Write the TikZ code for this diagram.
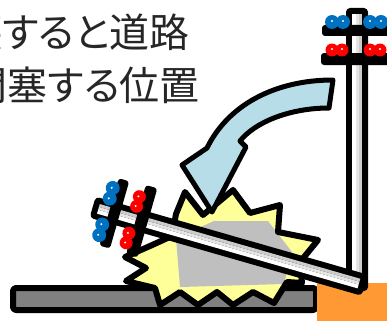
\documentclass[tikz,border=0pt]{standalone}
\usepackage{fontspec}
\newfontfamily\jpfont[RawFeature=+palt]{Noto Sans CJK JP}

\definecolor{insblue}{RGB}{0,112,192}
\definecolor{insred}{RGB}{255,0,0}
\definecolor{arrowblue}{RGB}{183,221,232}
\definecolor{flashyellow}{RGB}{255,255,153}
\definecolor{debrisgray}{RGB}{191,191,191}
\definecolor{roadgray}{RGB}{128,128,128}
\definecolor{curborange}{RGB}{255,153,51}

\tikzset{
  outline/.style={draw=black, line width=#1, line join=round},
  outline/.default=6pt,
  jptext/.style={font=\jpfont\fontsize{40}{44}\selectfont, inner sep=0pt, text=black!85},
}

% one pole with two cross arms, drawn upright
\newcommand{\utilitypole}{%
  \fill[black, rounded corners=4pt] (346,8) rectangle (368,291);
  \fill[white] (352,14) rectangle (356,285);
  \fill[gray!20] (356,14) rectangle (359,285);
  \fill[gray!40] (359,14) rectangle (362,285);
  % cross arms
  \fill[black, rounded corners=3pt] (322,25) rectangle (392,36);
  \fill[black, rounded corners=3pt] (321,53) rectangle (393,65);
  % insulators
  \foreach \cx in {332,343,370,381} {
    \fill[insblue] (\cx,22) circle (7);
    \fill[white] (\cx,21) circle (1.1);
  }
  \foreach \cx in {332,342,370,380} {
    \fill[insred] (\cx,50) circle (6.5);
    \fill[white] (\cx,49) circle (1.1);
  }
}

\begin{document}
\begin{tikzpicture}[x=1pt, y=-1pt]
  \useasboundingbox (0,0) rectangle (387,321);
  \clip (0,0) rectangle (387,321);

  % road and curb
  \draw[outline, fill=roadgray, rounded corners=3pt] (13,288) rectangle (316,310);
  \fill[curborange] (317,283) rectangle (387,321);

  % standing pole
  \utilitypole

  % impact flash
  \def\flashpath{(185,192) -- (203,215) -- (233,190) -- (250,213) -- (280,205)
    -- (278,232) -- (318,240) -- (300,262) -- (302,283) -- (287,282)
    -- (274,303) -- (253,292) -- (233,305) -- (217,292) -- (198,305)
    -- (180,292) -- (160,305) -- (155,288) -- (126,281) -- (146,268)
    -- (125,257) -- (150,246) -- (172,236) -- (176,214) -- cycle}
  \fill[flashyellow] \flashpath;
  \begin{scope}
    \clip \flashpath;
    \fill[debrisgray] (176,238) -- (214,221) -- (268,221) -- (292,252)
      -- (284,284) -- (180,287) -- cycle;
  \end{scope}
  \draw[outline] \flashpath;

  % fallen pole
  \begin{scope}[rotate around={74:(357,283)}]
    \utilitypole
  \end{scope}

  % falling direction
  \draw[outline=5pt, fill=arrowblue] (333,80) .. controls (275,80) and (228,105) .. (207,148)
    -- (182,165) -- (212,212) -- (246,147) -- (240,141)
    .. controls (255,122) and (290,108) .. (329,108) -- cycle;

  % caption
  \node[jptext, anchor=east] (line1) at (190,32) {壊すると道路};
  \node[jptext, anchor=east] (line2) at (200,85) {閉塞する位置};
\end{tikzpicture}
\end{document}
